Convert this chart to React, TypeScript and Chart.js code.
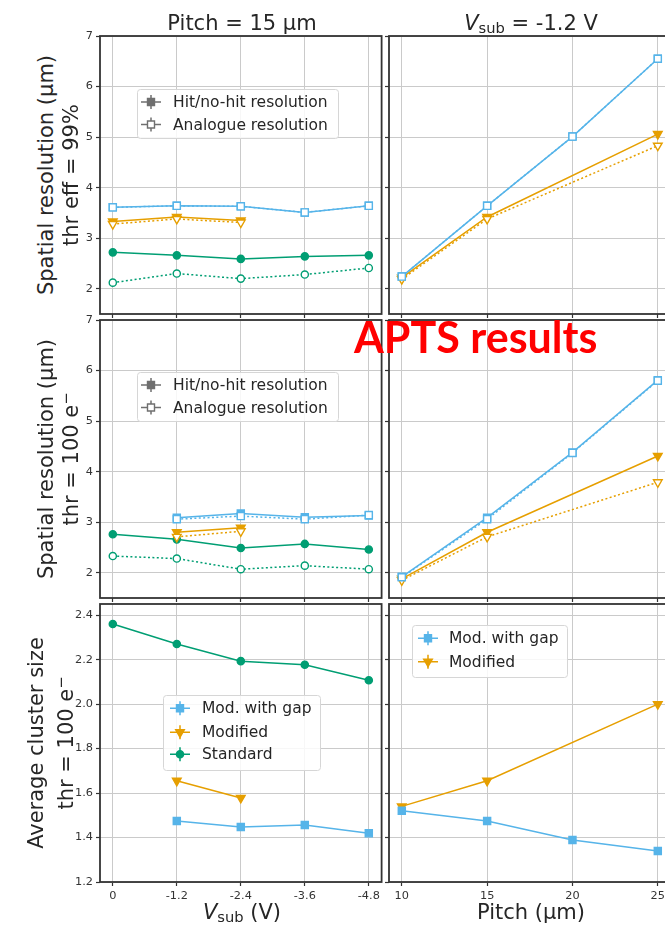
import React, { useEffect, useRef } from 'react';
import { Chart, registerables } from 'chart.js';

Chart.register(...registerables);

// ---------------- data ----------------
const VSUB = [0, -1.2, -2.4, -3.6, -4.8];
const PITCH = [10, 15, 20, 25];

const VSUB_TICKS = [-4.8, -3.6, -2.4, -1.2, 0];
const VSUB_TICK_LABELS = ['-4.8', '-3.6', '-2.4', '-1.2', '0'];
const PITCH_TICKS = [10, 15, 20, 25];
const PITCH_TICK_LABELS = ['10', '15', '20', '25'];
const RES_TICKS = [2, 3, 4, 5, 6, 7];
const RES_TICK_LABELS = ['2', '3', '4', '5', '6', '7'];
const CLU_TICKS = [1.2, 1.4, 1.6, 1.8, 2.0, 2.2, 2.4];
const CLU_TICK_LABELS = ['1.2', '1.4', '1.6', '1.8', '2.0', '2.2', '2.4'];

const FLAVOURS = ['Mod. with gap', 'Modified', 'Standard'];
const METHODS = ['Hit/no-hit resolution', 'Analogue resolution'];

// Row 1: thr eff = 99 %
const effV_gap_hit = [3.61, 3.64, 3.63, 3.51, 3.64];
const effV_gap_ana = [3.61, 3.64, 3.63, 3.51, 3.64];
const effV_mod_hit = [3.33, 3.42, 3.35, null, null];
const effV_mod_ana = [3.28, 3.38, 3.31, null, null];
const effV_std_hit = [2.72, 2.66, 2.59, 2.64, 2.66];
const effV_std_ana = [2.12, 2.3, 2.2, 2.28, 2.41];
const effP_gap_hit = [2.24, 3.64, 5.01, 6.55];
const effP_gap_ana = [2.24, 3.64, 5.01, 6.55];
const effP_mod_hit = [2.22, 3.42, null, 5.06];
const effP_mod_ana = [2.19, 3.38, null, 4.83];

// Row 2: thr = 100 e-
const thrV_gap_hit = [null, 3.09, 3.17, 3.1, 3.13];
const thrV_gap_ana = [null, 3.06, 3.12, 3.06, 3.14];
const thrV_mod_hit = [null, 2.8, 2.89, null, null];
const thrV_mod_ana = [null, 2.71, 2.82, null, null];
const thrV_std_hit = [2.76, 2.66, 2.49, 2.57, 2.46];
const thrV_std_ana = [2.33, 2.28, 2.07, 2.14, 2.07];
const thrP_gap_hit = [1.92, 3.09, 4.38, 5.81];
const thrP_gap_ana = [1.91, 3.06, 4.37, 5.8];
const thrP_mod_hit = [1.88, 2.8, null, 4.31];
const thrP_mod_ana = [1.85, 2.71, null, 3.79];

// Row 3: average cluster size, thr = 100 e-
const cluV_gap = [null, 1.474, 1.447, 1.456, 1.419];
const cluV_mod = [null, 1.655, 1.578, null, null];
const cluV_std = [2.36, 2.27, 2.193, 2.177, 2.107];
const cluP_gap = [1.52, 1.474, 1.389, 1.339];
const cluP_mod = [1.54, 1.655, null, 2.0];

// ---------------- style ----------------
const FONT = "'DejaVu Sans', sans-serif";
const BLUE = '#56B4E9';
const ORANGE = '#E69F00';
const GREEN = '#009E73';
const GREY = '#6f6f6f';
const GRID = '#cacaca';
const AX = '#333333';
const TXT = '#262626';

const YW = 40; // y-axis band width
const PAD_T = 10;
const PAD_R = 4;

type Marker = 'rect' | 'tri' | 'circle';
type SeriesDef = { xs: number[]; ys: (number | null)[]; color: string; marker: Marker; filled: boolean; dotted?: boolean };
type LegendItem = { label: string; color: string; marker: Marker; filled: boolean };
type LegendDef = { x: number; y: number; w: number; h: number; mx: number; tx: number; rows: number[]; items: LegendItem[] };

function toDataset(s: SeriesDef) {
  return {
    data: s.xs.map((x, i) => ({ x, y: s.ys[i] })),
    borderColor: s.color,
    backgroundColor: s.color,
    borderWidth: 1.5,
    borderDash: s.dotted ? [2, 2.4] : [],
    pointStyle: s.marker === 'tri' ? 'triangle' : s.marker,
    rotation: s.marker === 'tri' ? 180 : 0,
    pointRadius: s.marker === 'rect' ? 5 : s.marker === 'tri' ? 5 : 3.6,
    pointBackgroundColor: s.filled ? s.color : '#ffffff',
    pointBorderColor: s.color,
    pointBorderWidth: 1.4,
    spanGaps: true,
    tension: 0,
    fill: false,
  };
}

function drawMarker(ctx: CanvasRenderingContext2D, kind: Marker, x: number, y: number, color: string, filled: boolean) {
  ctx.save();
  ctx.lineWidth = 1.4;
  ctx.strokeStyle = color;
  ctx.fillStyle = filled ? color : '#ffffff';
  ctx.beginPath();
  if (kind === 'rect') {
    ctx.rect(x - 3.5, y - 3.5, 7, 7);
  } else if (kind === 'tri') {
    const r = 5;
    ctx.moveTo(x - r * 0.866, y - r * 0.5);
    ctx.lineTo(x + r * 0.866, y - r * 0.5);
    ctx.lineTo(x, y + r);
    ctx.closePath();
  } else {
    ctx.arc(x, y, 3.6, 0, Math.PI * 2);
  }
  ctx.fill();
  ctx.stroke();
  ctx.restore();
}

const boxLegendPlugin = {
  id: 'boxLegend',
  afterDatasetsDraw(chart: any, _args: any, opts: any) {
    const lg: LegendDef | undefined = opts && opts.def;
    if (!lg) return;
    const { ctx, chartArea: a } = chart;
    ctx.save();
    const bx = a.left + lg.x, by = a.top + lg.y;
    ctx.beginPath();
    (ctx as any).roundRect(bx + 0.5, by + 0.5, lg.w, lg.h, 3);
    ctx.fillStyle = 'rgba(255,255,255,0.85)';
    ctx.fill();
    ctx.strokeStyle = '#d6d6d6';
    ctx.lineWidth = 1;
    ctx.stroke();
    lg.items.forEach((it, i) => {
      const mx = a.left + lg.mx;
      const my = a.top + lg.rows[i];
      ctx.strokeStyle = it.color;
      ctx.lineWidth = 1.5;
      ctx.beginPath();
      ctx.moveTo(mx - 10, my);
      ctx.lineTo(mx + 10, my);
      ctx.moveTo(mx, my - 7);
      ctx.lineTo(mx, my + 7);
      ctx.stroke();
      drawMarker(ctx, it.marker, mx, my, it.color, it.filled);
      ctx.fillStyle = TXT;
      ctx.font = `15.5px ${FONT}`;
      ctx.textBaseline = 'middle';
      ctx.textAlign = 'left';
      ctx.fillText(it.label, a.left + lg.tx, my + 1);
    });
    ctx.restore();
  },
};

const framePlugin = {
  id: 'frame',
  afterDraw(chart: any) {
    const { ctx, chartArea: a } = chart;
    ctx.save();
    ctx.strokeStyle = AX;
    ctx.lineWidth = 1.8;
    ctx.strokeRect(a.left, a.top, a.right - a.left, a.bottom - a.top);
    ctx.restore();
  },
};

type PanelDef = {
  left: number; top: number; w: number; h: number; xh: number;
  xKind: 'vsub' | 'pitch'; yKind: 'res' | 'clu';
  showX: boolean; showY: boolean;
  series: SeriesDef[];
  legend?: LegendDef;
};

function buildConfig(p: PanelDef): any {
  const xTicks = p.xKind === 'vsub' ? VSUB_TICKS : PITCH_TICKS;
  const xLabels = p.xKind === 'vsub' ? VSUB_TICK_LABELS : PITCH_TICK_LABELS;
  const yTicks = p.yKind === 'res' ? RES_TICKS : CLU_TICKS;
  const yLabels = p.yKind === 'res' ? RES_TICK_LABELS : CLU_TICK_LABELS;
  const tickFont = { family: FONT, size: 11.3 };
  return {
    type: 'line',
    data: { datasets: p.series.map(toDataset) },
    plugins: [boxLegendPlugin, framePlugin],
    options: {
      animation: false,
      responsive: false,
      devicePixelRatio: 1,
      events: [],
      layout: { padding: { top: PAD_T, right: PAD_R, left: 0, bottom: 0 } },
      plugins: {
        legend: { display: false },
        tooltip: { enabled: false },
        title: { display: false },
        boxLegend: { def: p.legend },
      },
      scales: {
        x: {
          type: 'linear',
          min: p.xKind === 'vsub' ? -5.04 : 9.25,
          max: p.xKind === 'vsub' ? 0.24 : 25.75,
          reverse: p.xKind === 'vsub',
          afterBuildTicks: (s: any) => { s.ticks = xTicks.map((v) => ({ value: v })); },
          afterFit: (s: any) => { s.height = p.xh; },
          ticks: {
            display: p.showX,
            autoSkip: false,
            maxRotation: 0,
            padding: 3,
            color: AX,
            font: tickFont,
            callback: (v: number) => xLabels[xTicks.findIndex((t) => Math.abs(t - v) < 1e-6)],
          },
          grid: { color: GRID, lineWidth: 1, drawTicks: true, tickLength: 4, tickColor: AX, tickWidth: 1.2 },
          border: { display: false },
        },
        y: {
          type: 'linear',
          min: p.yKind === 'res' ? 1.5 : 1.2,
          max: p.yKind === 'res' ? 7 : 2.45,
          afterBuildTicks: (s: any) => { s.ticks = yTicks.map((v) => ({ value: v })); },
          afterFit: (s: any) => { s.width = YW; },
          ticks: {
            display: p.showY,
            padding: 3,
            color: AX,
            font: tickFont,
            callback: (v: number) => yLabels[yTicks.findIndex((t) => Math.abs(t - v) < 1e-6)],
          },
          grid: { color: GRID, lineWidth: 1, drawTicks: true, tickLength: 4, tickColor: AX, tickWidth: 1.2 },
          border: { display: false },
        },
      },
    },
  };
}

function Panel({ p }: { p: PanelDef }) {
  const ref = useRef<HTMLCanvasElement | null>(null);
  const W = YW + p.w + PAD_R;
  const H = PAD_T + p.h + p.xh;
  useEffect(() => {
    if (!ref.current) return;
    const chart = new Chart(ref.current, buildConfig(p));
    return () => chart.destroy();
  }, []);
  return (
    <canvas
      ref={ref}
      width={W}
      height={H}
      style={{ position: 'absolute', left: p.left - YW, top: p.top - PAD_T, width: W, height: H }}
    />
  );
}

const S = (xs: number[], ys: (number | null)[], color: string, marker: Marker, filled: boolean, dotted = false): SeriesDef =>
  ({ xs, ys, color, marker, filled, dotted });

const methodLegend = (y: number): LegendDef => ({
  x: 37, y, w: 201, h: 49, mx: 51, tx: 73, rows: [y + 13, y + 35.5],
  items: [
    { label: METHODS[0], color: GREY, marker: 'rect', filled: true },
    { label: METHODS[1], color: GREY, marker: 'rect', filled: false },
  ],
});

const COL_L = 100, COL_R = 389, PW = 284, PH = 278;
const ROW1 = 36, ROW2 = 320, ROW3 = 604;

const PANELS: PanelDef[] = [
  {
    left: COL_L, top: ROW1, w: PW, h: PH, xh: 10, xKind: 'vsub', yKind: 'res', showX: false, showY: true,
    series: [
      S(VSUB, effV_gap_ana, BLUE, 'rect', false, true),
      S(VSUB, effV_mod_ana, ORANGE, 'tri', false, true),
      S(VSUB, effV_std_ana, GREEN, 'circle', false, true),
      S(VSUB, effV_gap_hit, BLUE, 'rect', true),
      S(VSUB, effV_mod_hit, ORANGE, 'tri', true),
      S(VSUB, effV_std_hit, GREEN, 'circle', true),
    ],
    legend: methodLegend(53),
  },
  {
    left: COL_R, top: ROW1, w: PW, h: PH, xh: 10, xKind: 'pitch', yKind: 'res', showX: false, showY: false,
    series: [
      S(PITCH, effP_gap_ana, BLUE, 'rect', false, true),
      S(PITCH, effP_mod_ana, ORANGE, 'tri', false, true),
      S(PITCH, effP_gap_hit, BLUE, 'rect', true),
      S(PITCH, effP_mod_hit, ORANGE, 'tri', true),
    ],
  },
  {
    left: COL_L, top: ROW2, w: PW, h: PH, xh: 10, xKind: 'vsub', yKind: 'res', showX: false, showY: true,
    series: [
      S(VSUB, thrV_gap_ana, BLUE, 'rect', false, true),
      S(VSUB, thrV_mod_ana, ORANGE, 'tri', false, true),
      S(VSUB, thrV_std_ana, GREEN, 'circle', false, true),
      S(VSUB, thrV_gap_hit, BLUE, 'rect', true),
      S(VSUB, thrV_mod_hit, ORANGE, 'tri', true),
      S(VSUB, thrV_std_hit, GREEN, 'circle', true),
    ],
    legend: methodLegend(52),
  },
  {
    left: COL_R, top: ROW2, w: PW, h: PH, xh: 10, xKind: 'pitch', yKind: 'res', showX: false, showY: false,
    series: [
      S(PITCH, thrP_gap_ana, BLUE, 'rect', false, true),
      S(PITCH, thrP_mod_ana, ORANGE, 'tri', false, true),
      S(PITCH, thrP_gap_hit, BLUE, 'rect', true),
      S(PITCH, thrP_mod_hit, ORANGE, 'tri', true),
    ],
  },
  {
    left: COL_L, top: ROW3, w: PW, h: PH, xh: 30, xKind: 'vsub', yKind: 'clu', showX: true, showY: true,
    series: [
      S(VSUB, cluV_gap, BLUE, 'rect', true),
      S(VSUB, cluV_mod, ORANGE, 'tri', true),
      S(VSUB, cluV_std, GREEN, 'circle', true),
    ],
    legend: {
      x: 63, y: 91, w: 157, h: 75, mx: 80, tx: 102, rows: [104.3, 128.3, 150.3],
      items: [
        { label: FLAVOURS[0], color: BLUE, marker: 'rect', filled: true },
        { label: FLAVOURS[1], color: ORANGE, marker: 'tri', filled: true },
        { label: FLAVOURS[2], color: GREEN, marker: 'circle', filled: true },
      ],
    },
  },
  {
    left: COL_R, top: ROW3, w: PW, h: PH, xh: 30, xKind: 'pitch', yKind: 'clu', showX: true, showY: false,
    series: [
      S(PITCH, cluP_gap, BLUE, 'rect', true),
      S(PITCH, cluP_mod, ORANGE, 'tri', true),
    ],
    legend: {
      x: 23, y: 21, w: 155, h: 52, mx: 39, tx: 60, rows: [34.3, 57.7],
      items: [
        { label: FLAVOURS[0], color: BLUE, marker: 'rect', filled: true },
        { label: FLAVOURS[1], color: ORANGE, marker: 'tri', filled: true },
      ],
    },
  },
];

// ---------------- text overlays ----------------
const FS = 21;
const BASE = 0.846; // baseline offset (em) inside a line-height:1 box, DejaVu Sans

function HText({ cx, baseline, children, size = FS }: any) {
  return (
    <div style={{
      position: 'absolute', left: cx, top: baseline - BASE * size, transform: 'translateX(-50%)',
      fontFamily: FONT, fontSize: size, lineHeight: 1, whiteSpace: 'nowrap', color: TXT,
    }}>{children}</div>
  );
}

function VText({ baselineX, cy, children, size = FS }: any) {
  return (
    <div style={{
      position: 'absolute', left: baselineX - 0.346 * size, top: cy, transform: 'translate(-50%, -50%) rotate(-90deg)',
      fontFamily: FONT, fontSize: size, lineHeight: 1, whiteSpace: 'nowrap', color: TXT,
    }}>{children}</div>
  );
}

const Sub = ({ children }: any) => (
  <span style={{ fontSize: '0.7em', position: 'relative', top: '0.22em' }}>{children}</span>
);
const Sup = ({ children }: any) => (
  <span style={{ fontSize: '0.7em', position: 'relative', top: '-0.5em' }}>{children}</span>
);
const Vsub = () => (<><span style={{ fontStyle: 'italic' }}>V</span><Sub>sub</Sub></>);

export default function App() {
  useEffect(() => {
    document.body.style.margin = '0';
  }, []);
  const cL = COL_L + PW / 2;
  const cR = COL_R + PW / 2;
  return (
    <div style={{ position: 'absolute', left: 0, top: 0, width: 665, height: 925, overflow: 'hidden', background: '#ffffff' }}>
      {PANELS.map((p, i) => <Panel key={i} p={p} />)}
      <HText cx={cL} baseline={30.7}>Pitch = 15 µm</HText>
      <HText cx={cR} baseline={30.7}><Vsub /> = -1.2 V</HText>
      <HText cx={cL} baseline={920}><Vsub /> (V)</HText>
      <HText cx={cR} baseline={920}>Pitch (µm)</HText>

      <VText baselineX={53} cy={ROW1 + PH / 2}>Spatial resolution (µm)</VText>
      <VText baselineX={78} cy={ROW1 + PH / 2}>thr eff = 99%</VText>
      <VText baselineX={53} cy={ROW2 + PH / 2}>Spatial resolution (µm)</VText>
      <VText baselineX={78} cy={ROW2 + PH / 2}>thr = 100 e<Sup>−</Sup></VText>
      <VText baselineX={43} cy={ROW3 + PH / 2}>Average cluster size</VText>
      <VText baselineX={73} cy={ROW3 + PH / 2}>thr = 100 e<Sup>−</Sup></VText>

      <div style={{
        position: 'absolute', left: 354, top: 353 - 0.887 * 43, fontFamily: "Lato, 'Open Sans', sans-serif",
        fontWeight: 700, fontSize: 43, lineHeight: 1, color: '#ff0000', whiteSpace: 'nowrap',
      }}>APTS results</div>
    </div>
  );
}
